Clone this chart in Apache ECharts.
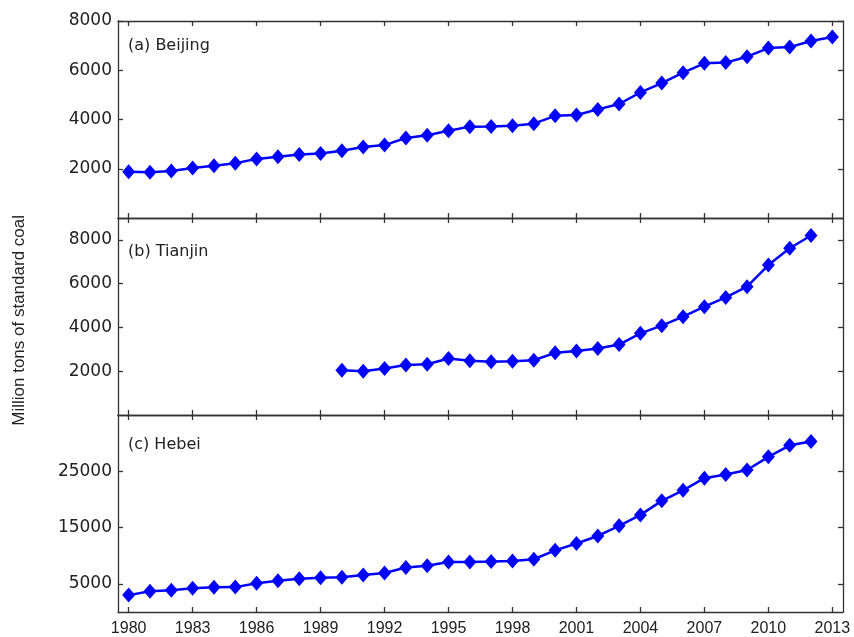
<!DOCTYPE html>
<html>
<head>
<meta charset="utf-8">
<script src="https://cdn.jsdelivr.net/npm/echarts@6/dist/echarts.min.js"></script>
<style>html,body{margin:0;padding:0;background:#fff}#c{width:854px;height:637px}</style>
</head>
<body>
<div id="c"></div>
<script>
const years = [1980,1981,1982,1983,1984,1985,1986,1987,1988,1989,1990,1991,1992,1993,1994,1995,1996,1997,1998,1999,2000,2001,2002,2003,2004,2005,2006,2007,2008,2009,2010,2011,2012,2013];
const xTicks = [1980,1983,1986,1989,1992,1995,1998,2001,2004,2007,2010,2013];
const beijing = [1880,1860,1910,2030,2120,2220,2400,2490,2580,2620,2730,2880,2960,3250,3360,3540,3710,3720,3750,3830,4150,4180,4410,4630,5100,5480,5900,6280,6310,6550,6900,6940,7190,7350];
const tianjinYears = [1990,1991,1992,1993,1994,1995,1996,1997,1998,1999,2000,2001,2002,2003,2004,2005,2006,2007,2008,2009,2010,2011,2012];
const tianjin = [2050,2000,2120,2280,2320,2580,2480,2430,2460,2500,2840,2920,3040,3220,3730,4080,4490,4950,5370,5860,6850,7620,8200];
const hebeiYears = [1980,1981,1982,1983,1984,1985,1986,1987,1988,1989,1990,1991,1992,1993,1994,1995,1996,1997,1998,1999,2000,2001,2002,2003,2004,2005,2006,2007,2008,2009,2010,2011,2012];
const hebei = [3000,3700,3850,4200,4400,4420,5100,5560,5920,6100,6160,6560,6920,7920,8220,8900,8900,8960,9080,9370,10950,12170,13510,15320,17250,19750,21620,23780,24420,25230,27570,29610,30300];
const panelNames = ['(a) Beijing','(b) Tianjin','(c) Hebei'];
const yRanges = [[0,8000],[0,9000],[0,35000]];
const yTicks = [[2000,4000,6000,8000],[2000,4000,6000,8000],[5000,15000,25000]];
const yTitle = 'Million tons of standard coal';

const seriesData = [
  years.map((y,i)=>[y,beijing[i]]),
  tianjinYears.map((y,i)=>[y,tianjin[i]]),
  hebeiYears.map((y,i)=>[y,hebei[i]])
];

const plain = v => String(Math.round(v));
const axisColor = '#333';
const grids = [
  {left:118, right:11, top:21, height:197},
  {left:118, right:11, top:218, height:197},
  {left:118, right:11, top:415, height:198}
];
const xAxes = [], yAxes = [], series = [], titles = [];
const labelTops = [38, 244, 437];
for (let g=0; g<3; g++) {
  const tickCommon = {show:true, inside:true, length:5, customValues:xTicks, lineStyle:{color:axisColor,width:1.3}};
  xAxes.push({
    gridIndex:g, type:'value', position:'bottom', min:1979.5, max:2013.5,
    axisLine:{show:true, onZero:false, lineStyle:{color:axisColor,width:1.3}},
    axisTick:tickCommon,
    axisLabel:{show:g===2, customValues:xTicks, formatter:plain, margin:9, color:'#222', fontFamily:'Liberation Sans', fontSize:16},
    splitLine:{show:false}
  });
  xAxes.push({
    gridIndex:g, type:'value', position:'top', min:1979.5, max:2013.5,
    axisLine:{show:true, onZero:false, lineStyle:{color:axisColor,width:1.3}},
    axisTick:tickCommon,
    axisLabel:{show:false},
    splitLine:{show:false}
  });
  const yTickCommon = {show:true, inside:true, length:5, customValues:yTicks[g], lineStyle:{color:axisColor,width:1.3}};
  yAxes.push({
    gridIndex:g, type:'value', position:'left', min:yRanges[g][0], max:yRanges[g][1],
    axisLine:{show:true, onZero:false, lineStyle:{color:axisColor,width:1.3}},
    axisTick:yTickCommon,
    axisLabel:{show:true, customValues:yTicks[g], formatter:plain, margin:6, color:'#222', fontFamily:'DejaVu Sans', fontSize:17},
    splitLine:{show:false}
  });
  yAxes.push({
    gridIndex:g, type:'value', position:'right', min:yRanges[g][0], max:yRanges[g][1],
    axisLine:{show:true, onZero:false, lineStyle:{color:axisColor,width:1.3}},
    axisTick:yTickCommon,
    axisLabel:{show:false},
    splitLine:{show:false}
  });
  series.push({
    type:'line', xAxisIndex:g*2, yAxisIndex:g*2, data:seriesData[g],
    symbol:'diamond', symbolSize:[13,15],
    lineStyle:{color:'#0000ff', width:2.5},
    itemStyle:{color:'#0000ff'},
    animation:false, silent:true
  });
  titles.push({
    text:panelNames[g], left:128, top:labelTops[g], padding:0,
    textStyle:{fontFamily:'DejaVu Sans', fontSize:16, fontWeight:'normal', color:'#222'}
  });
}

const chart = echarts.init(document.getElementById('c'), null, {renderer:'canvas'});
chart.setOption({
  animation:false,
  backgroundColor:'#fff',
  title:titles,
  grid:grids,
  xAxis:xAxes,
  yAxis:yAxes,
  series:series,
  graphic:[{
    type:'text', left:11, top:215, rotation:Math.PI/2,
    style:{text:yTitle, fill:'#222', font:'17px "Liberation Sans"'}
  }]
});
</script>
</body>
</html>
